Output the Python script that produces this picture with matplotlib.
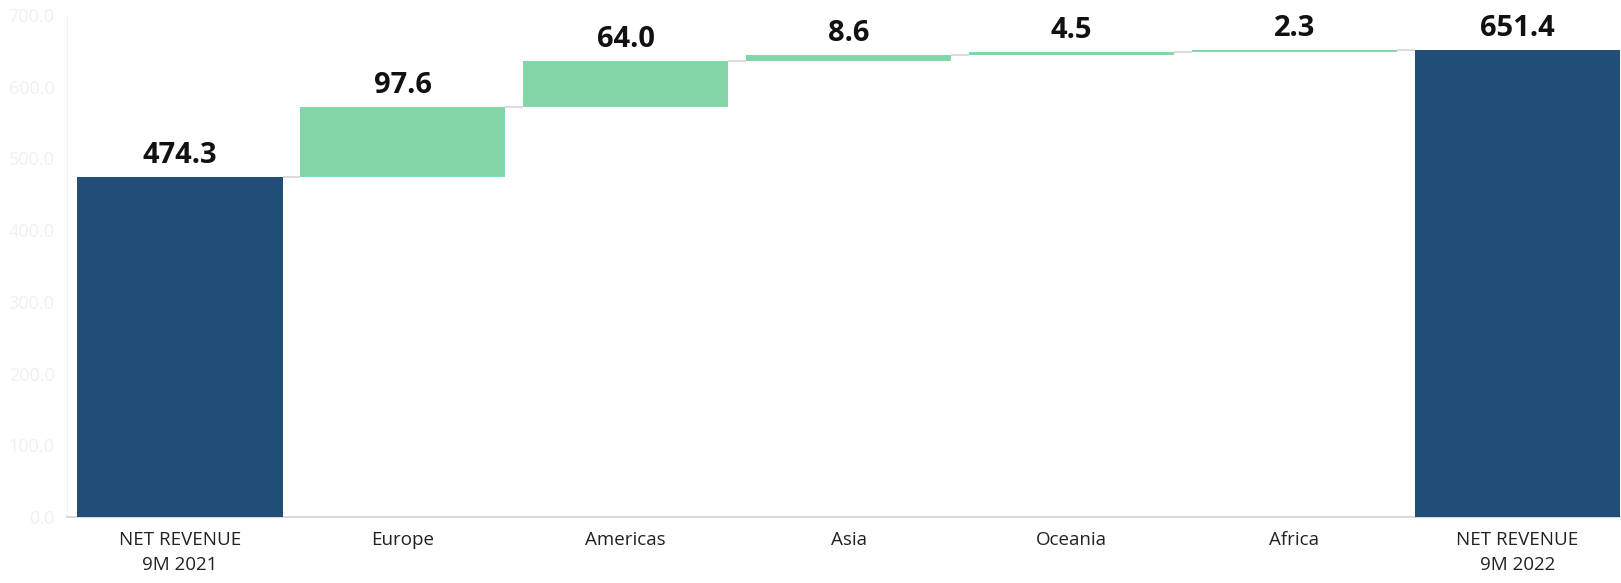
import matplotlib
matplotlib.use("Agg")
import matplotlib.pyplot as plt
import numpy as np

categories = ["NET REVENUE\n9M 2021", "Europe", "Americas", "Asia", "Oceania", "Africa", "NET REVENUE\n9M 2022"]
start_total = 474.3
increments = [97.6, 64.0, 8.6, 4.5, 2.3]
end_total = 651.4
y_ticks = [0, 100, 200, 300, 400, 500, 600, 700]

BLUE = "#204e77"
GREEN = "#82d6a7"
CONNECTOR = "#dcdcdc"

plt.rcParams["font.family"] = ["Open Sans", "DejaVu Sans"]

fig = plt.figure(figsize=(16.21, 5.83), dpi=100)
ax = fig.add_axes([67 / 1621, 1 - 517 / 583, 1 - 67 / 1621, (517 - 15) / 583])

x = np.arange(len(categories))
width = 0.92

# bottoms and heights of every bar in the waterfall
cum = np.cumsum([start_total] + increments)
bottoms = [0] + list(cum[:-1]) + [0]
heights = [start_total] + increments + [end_total]
colors = [BLUE] + [GREEN] * len(increments) + [BLUE]
values = [start_total] + increments + [end_total]

ax.bar(x, heights, bottom=bottoms, width=width, color=colors, zorder=3)

# connectors between consecutive bars
levels = list(cum) + [end_total]
for i in range(len(categories) - 1):
    ax.plot([x[i] + width / 2, x[i + 1] - width / 2], [levels[i], levels[i]],
            color=CONNECTOR, lw=1.5, zorder=2, solid_capstyle="butt")

for xi, b, h, v in zip(x, bottoms, heights, values):
    ax.annotate(f"{v:.1f}", (xi, b + h), xytext=(0, 5), textcoords="offset points",
                ha="center", va="bottom", fontsize=21, fontweight="bold", color="#111111")

ax.set_xlim(-0.507, 6.465)
ax.set_ylim(0, 700)
ax.set_yticks(y_ticks)
ax.set_yticklabels([f"{t:.1f}" for t in y_ticks], color="#f0f0f0", fontsize=13)
ax.set_xticks(x)
ax.set_xticklabels(categories, fontsize=13.5, color="#222222", linespacing=1.5)
ax.tick_params(axis="both", length=0)
ax.tick_params(axis="x", pad=10)
ax.tick_params(axis="y", pad=9)

for s in ["top", "right"]:
    ax.spines[s].set_visible(False)
ax.spines["left"].set_color("#f3f3f3")
ax.spines["bottom"].set_color("#d9d9d9")
ax.spines["bottom"].set_linewidth(1.5)

fig.savefig("out.png", dpi=100)
